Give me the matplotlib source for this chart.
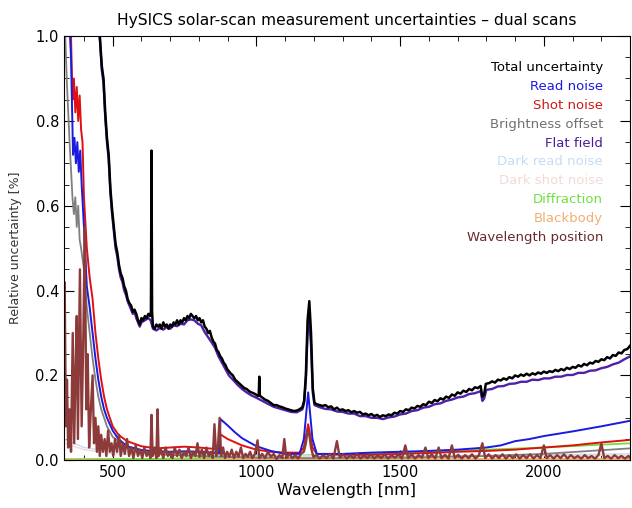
import matplotlib
matplotlib.use("Agg")
import matplotlib.pyplot as plt
from matplotlib.ticker import MultipleLocator, FormatStrFormatter

# values: (wavelength nm, relative uncertainty %)
total = [(445, 1.3), (455, 1.0), (462, 0.93), (468, 0.9), (474, 0.82), (480, 0.76), (486, 0.72),
         (492, 0.64), (498, 0.59), (504, 0.55), (510, 0.51), (516, 0.49), (522, 0.46), (528, 0.44),
         (534, 0.43), (540, 0.41), (546, 0.40), (552, 0.38), (558, 0.37), (564, 0.365), (570, 0.35),
         (576, 0.355), (582, 0.345), (588, 0.33), (594, 0.32), (600, 0.335), (606, 0.33), (612, 0.34),
         (618, 0.335), (624, 0.345), (630, 0.34), (633, 0.35), (635, 0.73), (637, 0.35), (640, 0.315),
         (646, 0.31), (652, 0.32), (658, 0.315), (664, 0.32), (670, 0.31), (676, 0.325), (682, 0.315),
         (688, 0.32), (694, 0.31), (700, 0.32), (706, 0.315), (712, 0.325), (718, 0.32), (724, 0.33),
         (730, 0.32), (736, 0.33), (742, 0.325), (748, 0.335), (754, 0.33), (760, 0.34), (766, 0.335),
         (772, 0.345), (778, 0.34), (784, 0.335), (790, 0.34), (796, 0.33), (802, 0.335), (808, 0.325),
         (814, 0.33), (820, 0.315), (826, 0.31), (832, 0.3), (838, 0.305), (844, 0.29), (850, 0.28),
         (856, 0.275), (862, 0.26), (868, 0.255), (874, 0.245), (880, 0.24), (886, 0.23), (892, 0.225),
         (898, 0.215), (904, 0.21), (910, 0.205), (918, 0.2), (926, 0.19), (934, 0.185), (942, 0.18),
         (950, 0.175), (958, 0.17), (966, 0.168), (974, 0.163), (982, 0.16), (990, 0.158), (998, 0.155),
         (1004, 0.152), (1008, 0.152), (1010, 0.197), (1012, 0.152), (1020, 0.148), (1030, 0.143),
         (1040, 0.14), (1050, 0.135), (1060, 0.13), (1070, 0.13), (1080, 0.127), (1090, 0.125),
         (1100, 0.122), (1110, 0.12), (1120, 0.118), (1130, 0.116), (1140, 0.117), (1150, 0.12),
         (1160, 0.125), (1166, 0.14), (1172, 0.2), (1178, 0.33), (1184, 0.375), (1190, 0.3),
         (1196, 0.17), (1202, 0.135), (1210, 0.132), (1220, 0.13), (1230, 0.128), (1240, 0.13),
         (1250, 0.125), (1260, 0.127), (1270, 0.12), (1280, 0.124), (1290, 0.118), (1300, 0.12),
         (1310, 0.116), (1320, 0.118), (1330, 0.113), (1340, 0.116), (1350, 0.112), (1360, 0.114),
         (1370, 0.108), (1380, 0.11), (1390, 0.106), (1400, 0.109), (1410, 0.104), (1420, 0.107),
         (1430, 0.102), (1440, 0.106), (1450, 0.104), (1460, 0.108), (1470, 0.106), (1480, 0.112),
         (1490, 0.11), (1500, 0.116), (1510, 0.114), (1520, 0.12), (1530, 0.118), (1540, 0.124),
         (1550, 0.122), (1560, 0.128), (1570, 0.126), (1580, 0.132), (1590, 0.13), (1600, 0.138),
         (1610, 0.135), (1620, 0.142), (1630, 0.139), (1640, 0.146), (1650, 0.143), (1660, 0.15),
         (1670, 0.147), (1680, 0.155), (1690, 0.152), (1700, 0.16), (1710, 0.157), (1720, 0.164),
         (1730, 0.161), (1740, 0.168), (1750, 0.165), (1760, 0.172), (1770, 0.17), (1780, 0.175),
         (1786, 0.15), (1792, 0.155), (1798, 0.18), (1810, 0.182), (1820, 0.186), (1830, 0.183),
         (1840, 0.19), (1850, 0.188), (1860, 0.193), (1870, 0.19), (1880, 0.196), (1890, 0.193),
         (1900, 0.2), (1910, 0.197), (1920, 0.202), (1930, 0.199), (1940, 0.204), (1950, 0.2),
         (1960, 0.205), (1970, 0.202), (1980, 0.207), (1990, 0.204), (2000, 0.209), (2010, 0.206),
         (2020, 0.21), (2030, 0.208), (2040, 0.213), (2050, 0.21), (2060, 0.215), (2070, 0.212),
         (2080, 0.218), (2090, 0.215), (2100, 0.22), (2110, 0.218), (2120, 0.224), (2130, 0.221),
         (2140, 0.227), (2150, 0.224), (2160, 0.23), (2170, 0.228), (2180, 0.234), (2190, 0.232),
         (2200, 0.238), (2210, 0.236), (2220, 0.243), (2230, 0.24), (2240, 0.248), (2250, 0.246),
         (2260, 0.254), (2270, 0.252), (2280, 0.26), (2290, 0.262), (2300, 0.27)]

flat_field = [(445, 1.3), (455, 1.0), (462, 0.92), (468, 0.89), (474, 0.81), (480, 0.75), (486, 0.71),
              (492, 0.63), (498, 0.58), (504, 0.54), (510, 0.5), (516, 0.48), (522, 0.45), (528, 0.43),
              (534, 0.42), (540, 0.40), (546, 0.39), (552, 0.375), (558, 0.365), (564, 0.355),
              (570, 0.345), (576, 0.35), (582, 0.335), (588, 0.325), (594, 0.315), (600, 0.325),
              (612, 0.33), (624, 0.335), (632, 0.33), (640, 0.31), (652, 0.306), (664, 0.312),
              (676, 0.308), (688, 0.314), (700, 0.31), (712, 0.318), (724, 0.316), (736, 0.322),
              (748, 0.32), (760, 0.33), (772, 0.332), (784, 0.33), (796, 0.322), (808, 0.318),
              (820, 0.302), (832, 0.29), (844, 0.278), (856, 0.265), (868, 0.245), (880, 0.23),
              (892, 0.215), (904, 0.2), (918, 0.19), (934, 0.178), (950, 0.168), (966, 0.16),
              (982, 0.153), (998, 0.148), (1020, 0.14), (1040, 0.133), (1060, 0.126), (1080, 0.122),
              (1100, 0.118), (1120, 0.114), (1140, 0.113), (1160, 0.12), (1166, 0.135), (1172, 0.19),
              (1178, 0.3), (1184, 0.33), (1190, 0.27), (1196, 0.16), (1202, 0.13), (1220, 0.125),
              (1240, 0.121), (1260, 0.12), (1280, 0.115), (1300, 0.114), (1320, 0.11), (1340, 0.11),
              (1360, 0.104), (1380, 0.104), (1400, 0.1), (1420, 0.1), (1440, 0.097), (1460, 0.101),
              (1480, 0.103), (1500, 0.108), (1520, 0.11), (1540, 0.116), (1560, 0.118), (1580, 0.124),
              (1600, 0.126), (1620, 0.132), (1640, 0.134), (1660, 0.14), (1680, 0.143), (1700, 0.148),
              (1720, 0.15), (1740, 0.156), (1760, 0.158), (1780, 0.163), (1786, 0.14), (1792, 0.145),
              (1800, 0.166), (1820, 0.168), (1840, 0.174), (1860, 0.175), (1880, 0.18), (1900, 0.181),
              (1920, 0.185), (1940, 0.185), (1960, 0.19), (1980, 0.189), (2000, 0.193), (2020, 0.193),
              (2040, 0.197), (2060, 0.197), (2080, 0.201), (2100, 0.201), (2120, 0.206), (2140, 0.206),
              (2160, 0.211), (2180, 0.212), (2200, 0.217), (2220, 0.22), (2240, 0.226), (2260, 0.23),
              (2280, 0.238), (2300, 0.245)]

read_noise = [(330, 1.3), (355, 0.95), (362, 0.72), (367, 0.76), (372, 0.7), (377, 0.75), (382, 0.68),
              (387, 0.73), (392, 0.65), (400, 0.55), (410, 0.41), (420, 0.36), (430, 0.3), (440, 0.24),
              (450, 0.19), (460, 0.15), (470, 0.12), (480, 0.1), (500, 0.07), (520, 0.05), (550, 0.033),
              (600, 0.024), (650, 0.021), (700, 0.02), (750, 0.021), (800, 0.02), (850, 0.018),
              (870, 0.016), (875, 0.097), (900, 0.082), (925, 0.066), (950, 0.052), (1000, 0.033),
              (1050, 0.022), (1100, 0.015), (1150, 0.015), (1165, 0.05), (1180, 0.16), (1195, 0.05),
              (1210, 0.015), (1300, 0.015), (1400, 0.018), (1500, 0.02), (1600, 0.022), (1700, 0.025),
              (1800, 0.03), (1850, 0.035), (1900, 0.045), (1950, 0.05), (2000, 0.057), (2100, 0.068),
              (2200, 0.08), (2300, 0.093)]

shot_noise = [(330, 1.3), (355, 1.0), (360, 0.85), (365, 0.9), (370, 0.82), (375, 0.88), (380, 0.8),
              (385, 0.86), (390, 0.78), (395, 0.75), (400, 0.62), (410, 0.5), (420, 0.43), (430, 0.38),
              (440, 0.3), (450, 0.24), (460, 0.19), (470, 0.15), (480, 0.12), (500, 0.08), (520, 0.06),
              (550, 0.045), (600, 0.033), (650, 0.028), (700, 0.03), (750, 0.032), (800, 0.03),
              (850, 0.027), (868, 0.026), (872, 0.062), (900, 0.05), (950, 0.035), (1000, 0.025),
              (1050, 0.02), (1100, 0.018), (1150, 0.018), (1165, 0.03), (1180, 0.085), (1195, 0.03),
              (1210, 0.015), (1300, 0.013), (1400, 0.013), (1500, 0.015), (1600, 0.017), (1700, 0.02),
              (1800, 0.022), (1900, 0.025), (2000, 0.03), (2100, 0.035), (2200, 0.042), (2300, 0.048)]

brightness = [(330, 1.1), (340, 0.9), (350, 0.75), (360, 0.62), (365, 0.58), (370, 0.62), (375, 0.55),
              (380, 0.6), (385, 0.52), (390, 0.5), (400, 0.45), (410, 0.36), (420, 0.3), (430, 0.24),
              (440, 0.19), (450, 0.15), (460, 0.12), (480, 0.08), (500, 0.055), (550, 0.03),
              (600, 0.02), (700, 0.012), (800, 0.01), (900, 0.008), (1000, 0.006), (1200, 0.005),
              (1500, 0.006), (1800, 0.01), (2000, 0.015), (2300, 0.028)]

dark_read = [(330, 0.05), (400, 0.03), (500, 0.02), (700, 0.018), (1000, 0.012), (1500, 0.01), (2300, 0.015)]
dark_shot = [(330, 0.04), (400, 0.025), (500, 0.015), (700, 0.012), (1000, 0.01), (1500, 0.008), (2300, 0.012)]
diffraction = [(330, 0.0), (500, 0.002), (800, 0.005), (1200, 0.012), (1500, 0.018), (1800, 0.025),
               (2000, 0.03), (2300, 0.04)]
blackbody = [(330, 0.002), (2300, 0.002)]

wl_position = [(330, 0.15), (333, 0.42), (337, 0.08), (341, 0.19), (345, 0.03), (350, 0.12), (355, 0.02),
               (361, 0.30), (366, 0.04), (371, 0.22), (375, 0.34), (379, 0.05), (386, 0.45), (392, 0.08),
               (398, 0.3), (403, 0.55), (408, 0.12), (413, 0.25), (418, 0.03), (424, 0.12), (430, 0.20),
               (435, 0.04), (440, 0.10), (445, 0.02), (450, 0.08), (455, 0.01), (460, 0.06), (466, 0.02),
               (472, 0.05), (478, 0.01), (484, 0.07), (490, 0.02), (496, 0.04), (502, 0.01), (508, 0.05),
               (515, 0.02), (522, 0.06), (528, 0.01), (535, 0.04), (542, 0.015), (550, 0.05), (557, 0.01),
               (565, 0.03), (572, 0.005), (580, 0.035), (588, 0.01), (595, 0.025), (603, 0.005),
               (610, 0.03), (618, 0.01), (626, 0.02), (631, 0.005), (635, 0.107), (639, 0.01),
               (646, 0.03), (652, 0.005), (656, 0.12), (660, 0.01), (668, 0.025), (676, 0.005),
               (684, 0.03), (692, 0.01), (700, 0.02), (708, 0.005), (716, 0.03), (724, 0.01),
               (732, 0.025), (740, 0.005), (748, 0.02), (756, 0.01), (764, 0.03), (772, 0.005),
               (780, 0.02), (788, 0.01), (795, 0.04), (802, 0.008), (810, 0.025), (818, 0.005),
               (826, 0.03), (834, 0.01), (842, 0.02), (848, 0.005), (854, 0.085), (860, 0.01),
               (866, 0.03), (872, 0.10), (877, 0.01), (884, 0.03), (891, 0.005), (898, 0.02),
               (906, 0.008), (914, 0.025), (922, 0.005), (930, 0.02), (938, 0.008), (946, 0.03),
               (954, 0.005), (962, 0.015), (970, 0.008), (978, 0.02), (986, 0.005), (995, 0.015),
               (1004, 0.047), (1010, 0.005), (1020, 0.015), (1030, 0.005), (1040, 0.02), (1050, 0.008),
               (1060, 0.015), (1070, 0.003), (1080, 0.012), (1090, 0.005), (1097, 0.05), (1104, 0.005),
               (1115, 0.015), (1125, 0.005), (1135, 0.012), (1145, 0.004), (1155, 0.015), (1165, 0.02),
               (1172, 0.04), (1178, 0.07), (1184, 0.06), (1190, 0.03), (1198, 0.008), (1210, 0.012),
               (1220, 0.004), (1232, 0.012), (1244, 0.005), (1256, 0.015), (1268, 0.004), (1280, 0.045),
               (1290, 0.006), (1302, 0.014), (1314, 0.004), (1326, 0.012), (1338, 0.005), (1350, 0.015),
               (1362, 0.004), (1374, 0.012), (1386, 0.005), (1398, 0.014), (1410, 0.004), (1422, 0.012),
               (1434, 0.005), (1446, 0.014), (1458, 0.004), (1470, 0.012), (1482, 0.006), (1494, 0.014),
               (1506, 0.004), (1518, 0.035), (1528, 0.005), (1540, 0.014), (1552, 0.004), (1564, 0.012),
               (1576, 0.006), (1588, 0.03), (1598, 0.005), (1610, 0.014), (1622, 0.004), (1634, 0.03),
               (1644, 0.005), (1656, 0.013), (1668, 0.004), (1680, 0.035), (1690, 0.005), (1702, 0.013),
               (1714, 0.004), (1726, 0.012), (1738, 0.005), (1750, 0.014), (1762, 0.004), (1774, 0.012),
               (1786, 0.04), (1796, 0.005), (1808, 0.014), (1820, 0.004), (1832, 0.012), (1844, 0.005),
               (1856, 0.014), (1868, 0.004), (1880, 0.012), (1892, 0.005), (1904, 0.014), (1916, 0.004),
               (1928, 0.012), (1940, 0.005), (1952, 0.014), (1964, 0.004), (1976, 0.012), (1988, 0.005),
               (2000, 0.035), (2010, 0.005), (2022, 0.012), (2034, 0.004), (2046, 0.012), (2058, 0.005),
               (2070, 0.014), (2082, 0.004), (2094, 0.012), (2106, 0.005), (2118, 0.01), (2130, 0.004),
               (2142, 0.012), (2154, 0.005), (2166, 0.01), (2178, 0.004), (2190, 0.012), (2200, 0.04),
               (2210, 0.005), (2222, 0.01), (2234, 0.004), (2246, 0.012), (2258, 0.005), (2270, 0.01),
               (2282, 0.004), (2294, 0.01), (2300, 0.006)]

labels = ["Total uncertainty", "Read noise", "Shot noise", "Brightness offset", "Flat field",
          "Dark read noise", "Dark shot noise", "Diffraction", "Blackbody", "Wavelength position"]

fig = plt.figure(figsize=(6.32, 5.08), dpi=100)
ax = fig.add_axes([0.101, 0.094, 0.896, 0.835])

series = [
    (blackbody, "#f0b070", 1.4),
    (diffraction, "#70e040", 1.3),
    (dark_shot, "#f5d8d8", 1.0),
    (dark_read, "#c4dcf4", 1.0),
    (brightness, "#808080", 1.3),
    (shot_noise, "#e01010", 1.4),
    (read_noise, "#1a1ae0", 1.4),
    (wl_position, "#8c3a3a", 1.7),
    (flat_field, "#5020a8", 1.7),
    (total, "#000000", 1.8),
]
for data, color, lw in series:
    x, y = zip(*data)
    ax.plot(x, y, color=color, lw=lw)

# text-only legend, right aligned like the IDL original
colors = ["#000000", "#1a1ae0", "#d01818", "#707070", "#4a1a98",
          "#c4dcf4", "#f5d8d8", "#70e040", "#f0b070", "#6a2a2a"]
for i, (lab, c) in enumerate(zip(labels, colors)):
    ax.text(0.952, 0.925 - i * 0.0443, lab, color=c, fontsize=9.5,
            ha="right", va="center", transform=ax.transAxes)

ax.set_xlim(330, 2300)
ax.set_ylim(0, 1.0)
ax.xaxis.set_major_locator(MultipleLocator(500))
ax.xaxis.set_minor_locator(MultipleLocator(100))
ax.yaxis.set_major_locator(MultipleLocator(0.2))
ax.yaxis.set_minor_locator(MultipleLocator(0.05))
ax.yaxis.set_major_formatter(FormatStrFormatter("%.1f"))
ax.tick_params(which="both", direction="in", top=True, right=True, labelsize=10.5)
ax.tick_params(which="major", length=7)
ax.tick_params(which="minor", length=3.5)

ax.set_xlabel("Wavelength [nm]", fontsize=11.5, labelpad=2)
ax.set_ylabel("Relative uncertainty [%]", fontsize=9, color="#333333", labelpad=10)
ax.set_title("HySICS solar-scan measurement uncertainties \u2013 dual scans", fontsize=11.2, pad=8)

fig.savefig("out.png", dpi=100)
